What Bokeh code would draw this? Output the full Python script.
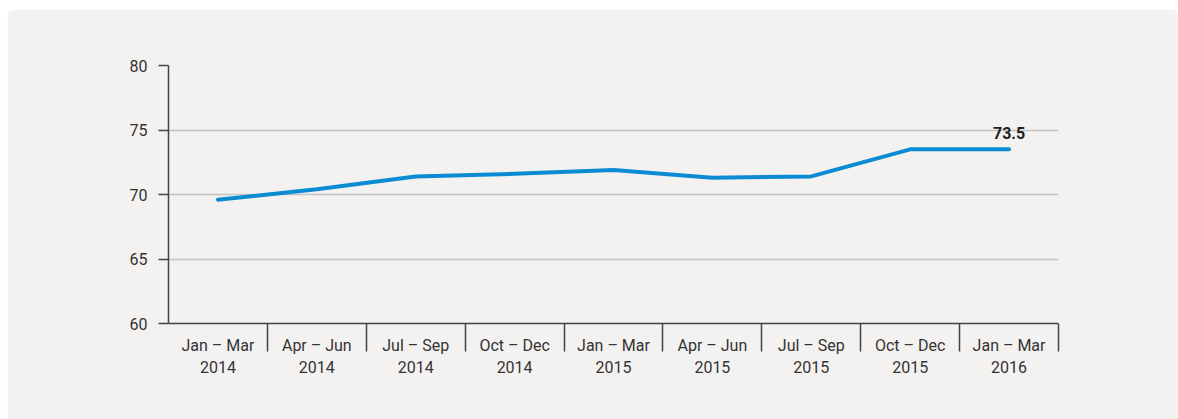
from bokeh.plotting import figure
from bokeh.models import FixedTicker, ColumnDataSource
from bokeh.core.properties import value
from bokeh.embed import file_html
from bokeh.resources import INLINE

quarters = ["Jan – Mar", "Apr – Jun", "Jul – Sep", "Oct – Dec", "Jan – Mar",
            "Apr – Jun", "Jul – Sep", "Oct – Dec", "Jan – Mar"]
years = ["2014", "2014", "2014", "2014", "2015", "2015", "2015", "2015", "2016"]
values = [69.6, 70.4, 71.4, 71.6, 71.9, 71.3, 71.4, 73.5, 73.5]
y_ticks = [60, 65, 70, 75, 80]
last_label = "73.5"

BG = "#f3f2f1"
FONT = "Roboto"

n = len(values)
xs = [i + 0.5 for i in range(n)]

p = figure(width=1171, height=410, output_backend="svg", toolbar_location=None,
           x_range=(0, n), y_range=(y_ticks[0], y_ticks[-1]),
           min_border_left=161, min_border_right=120,
           min_border_top=56, min_border_bottom=96)
p.background_fill_color = BG
p.border_fill_color = BG
p.outline_line_color = None
p.styles = {"margin-left": "7px", "margin-top": "9px",
            "border-radius": "8px 8px 0 0", "overflow": "hidden"}

src = ColumnDataSource(dict(x=xs, y=values))
p.line("x", "y", source=src, line_color="#0a8bd3", line_width=4, line_cap="round", line_join="round")

p.text(x=[xs[-1]], y=[values[-1]], text=[last_label], text_align="center",
       text_baseline="bottom", y_offset=-10, text_font=value(FONT),
       text_font_style="bold", text_font_size="16px", text_color="#222222")

# x axis
p.xaxis.ticker = FixedTicker(ticks=xs, minor_ticks=list(range(1, n + 1)))
p.xaxis.major_label_overrides = {x: f"{q}\n{y}" for x, q, y in zip(xs, quarters, years)}
p.xaxis.major_tick_out = 0
p.xaxis.major_tick_in = 0
p.xaxis.minor_tick_out = 28
p.xaxis.minor_tick_in = 0
p.xaxis.minor_tick_line_color = "#444444"
p.xaxis.minor_tick_line_width = 1.5
p.xaxis.axis_line_color = "#444444"
p.xaxis.axis_line_width = 1.5
p.xaxis.major_label_standoff = -16
p.xaxis.major_label_text_font = FONT
p.xaxis.major_label_text_font_size = "16px"
p.xaxis.major_label_text_color = "#333333"
p.xaxis.major_label_text_line_height = 1.2
p.xgrid.grid_line_color = None

# y axis
p.yaxis.ticker = FixedTicker(ticks=y_ticks)
p.yaxis.major_tick_out = 10
p.yaxis.major_tick_in = 0
p.yaxis.minor_tick_line_color = None
p.yaxis.major_tick_line_color = "#444444"
p.yaxis.major_tick_line_width = 1.5
p.yaxis.axis_line_color = "#444444"
p.yaxis.axis_line_width = 1.5
p.yaxis.major_label_standoff = 11
p.yaxis.major_label_text_font = FONT
p.yaxis.major_label_text_font_size = "16px"
p.yaxis.major_label_text_color = "#333333"
p.ygrid.grid_line_color = "#c4c4c4"
p.ygrid.grid_line_width = 1.5

open("out.html", "w").write(file_html(p, INLINE))
